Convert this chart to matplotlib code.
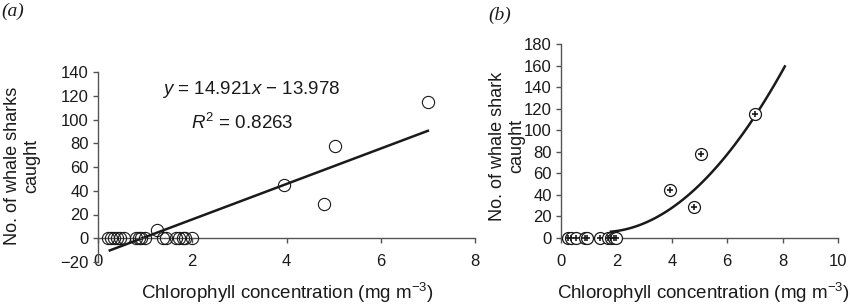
import numpy as np
import matplotlib
matplotlib.use('Agg')
import matplotlib.pyplot as plt

plt.rcParams['font.family'] = ['Liberation Sans', 'DejaVu Sans']
plt.rcParams['mathtext.fontset'] = 'custom'
plt.rcParams['mathtext.rm'] = 'Liberation Sans'
plt.rcParams['mathtext.it'] = 'Liberation Sans:italic'

chl_a = [0.22, 0.28, 0.34, 0.40, 0.47, 0.55, 0.80, 0.86, 0.92, 1.00, 1.25,
         1.38, 1.45, 1.65, 1.72, 1.80, 1.85, 2.00, 3.95, 4.80, 5.02, 7.00]
sharks_a = [0, 0, 0, 0, 0, 0, 0, 0, 0, 0, 7,
            0, 0, 0, 0, 0, 0, 0, 45, 29, 78, 115]
slope_a = 14.921
intercept_a = -13.978
fit_range_a = [0.25, 7.0]

chl_b = [0.25, 0.35, 0.55, 0.85, 0.95, 1.40, 1.70, 1.80, 1.90, 2.00,
         3.95, 4.80, 5.05, 7.00]
sharks_b = [0, 0, 0, 0, 0, 0, 0, 0, 0, 0, 45, 29, 78, 115]
# puntos de la curva de ajuste
curve_x = [1.8, 2.83, 4.03, 5.24, 6.45, 7.0, 8.08]
curve_y = [4, 13.6, 32, 52, 91, 114, 160]

W, H = 850, 304
fig = plt.figure(figsize=(W / 100, H / 100), dpi=100)

def box(l, r, t, b):
    # convierte pixeles a fraccion de figura
    return [l / W, 1 - b / H, (r - l) / W, (b - t) / H]

ink = '#1a1a1a'
axis_col = '#555555'

def style(ax):
    for s in ['top', 'right']:
        ax.spines[s].set_visible(False)
    for s in ['left', 'bottom']:
        ax.spines[s].set_color(axis_col)
        ax.spines[s].set_linewidth(1.0)
    ax.tick_params(direction='out', length=3.5, width=1.0, color=axis_col,
                   labelsize=12, labelcolor=ink)
    ax.tick_params(axis='y', pad=3)
    ax.tick_params(axis='x', pad=8)

# ---- panel (a)
ax1 = fig.add_axes(box(98, 475, 72, 262))
style(ax1)
ax1.set_xlim(0, 8)
ax1.set_ylim(-20, 140)
ax1.set_xticks([0, 2, 4, 6, 8])
ax1.set_yticks(range(-20, 141, 20))
ax1.spines['bottom'].set_position(('data', 0))
xf = np.array(fit_range_a)
ax1.plot(xf, slope_a * xf + intercept_a, color=ink, lw=1.8, zorder=2)
ax1.plot(chl_a, sharks_a, 'o', ms=8.8, mfc='none', mec=ink, mew=0.8,
         clip_on=False, zorder=3)
fig.text(251 / W, 1 - 90 / H, r'$y$ = 14.921$x$ − 13.978', ha='center',
         va='center', fontsize=13.5, color=ink)
fig.text(242 / W, 1 - 123 / H, r'$R^2$ = 0.8263', ha='center', va='center',
         fontsize=13.5, color=ink)
fig.text(22 / W, 1 - 166 / H, 'No. of whale sharks\ncaught', rotation=90,
         ha='center', va='center', multialignment='center', fontsize=13,
         color=ink, linespacing=1.15)
fig.text(287 / W, 1 - 293 / H, 'Chlorophyll concentration (mg m$^{-3}$)',
         ha='center', va='center', fontsize=13.5, color=ink)
fig.text(13 / W, 1 - 11 / H, '(a)', ha='center', va='center', fontsize=14,
         family='Liberation Serif', style='italic', color=ink)

# ---- panel (b)
ax2 = fig.add_axes(box(561, 838, 44, 238))
style(ax2)
ax2.set_xlim(0, 10)
ax2.set_ylim(0, 180)
ax2.set_xticks(range(0, 11, 2))
ax2.set_yticks(range(0, 181, 20))
coef = np.polyfit(curve_x, curve_y, 2)
xc = np.linspace(curve_x[0], curve_x[-1], 100)
ax2.plot(xc, np.polyval(coef, xc), color=ink, lw=1.8, zorder=2)
ax2.plot(chl_b, sharks_b, 'o', ms=8.6, mfc='white', mec=ink, mew=0.9,
         clip_on=False, zorder=3)
ax2.plot(chl_b, sharks_b, '+', ms=4.5, mec=ink, mew=1.2,
         clip_on=False, zorder=4)
fig.text(507 / W, 1 - 146 / H, 'No. of whale shark\ncaught', rotation=90,
         ha='center', va='center', multialignment='center', fontsize=13,
         color=ink, linespacing=1.15)
fig.text(703 / W, 1 - 293 / H, 'Chlorophyll concentration (mg m$^{-3}$)',
         ha='center', va='center', fontsize=13.5, color=ink)
fig.text(500 / W, 1 - 15 / H, '(b)', ha='center', va='center', fontsize=14,
         family='Liberation Serif', style='italic', color=ink)

fig.savefig('out.png', dpi=100)
